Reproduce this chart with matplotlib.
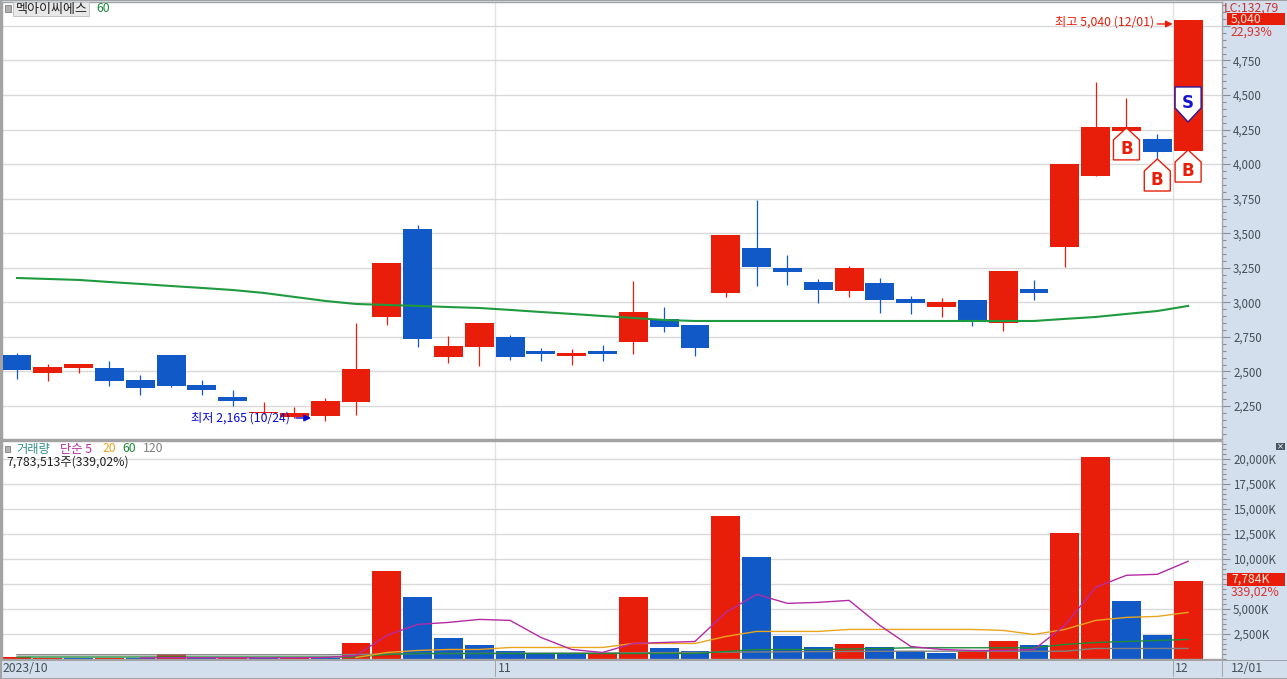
import matplotlib
matplotlib.use('Agg')
import matplotlib.pyplot as plt
from matplotlib.patches import Polygon, Rectangle
from matplotlib.ticker import FixedLocator, FuncFormatter, MultipleLocator
from matplotlib.transforms import Affine2D

plt.rcParams['font.family'] = ['Noto Sans CJK KR', 'DejaVu Sans']

W, H = 1287, 679

# candles
opens = [2619, 2489, 2525, 2525, 2438, 2619, 2402, 2315, 2200, 2170, 2178, 2279, 2894,
         3531, 2605, 2677, 2749, 2648, 2612, 2648, 2713, 2879, 2836, 3068, 3393, 3249,
         3147, 3082, 3140, 3024, 2966, 3017, 2851, 3097, 3401, 3914, 4240, 4182, 4095]
closes = [2510, 2532, 2554, 2431, 2380, 2395, 2366, 2286, 2207, 2199, 2286, 2518, 3285,
          2735, 2684, 2850, 2605, 2626, 2634, 2626, 2930, 2822, 2670, 3487, 3256, 3220,
          3089, 3249, 3017, 2995, 3003, 2858, 3227, 3068, 4001, 4269, 4269, 4088, 5040]
highs = [2633, 2554, 2554, 2576, 2474, 2619, 2438, 2366, 2279, 2243, 2308, 2850, 3285,
         3560, 2757, 2850, 2764, 2670, 2662, 2691, 3155, 2966, 2836, 3487, 3741, 3343,
         3169, 3263, 3176, 3046, 3031, 3017, 3227, 3162, 4001, 4594, 4479, 4218, 5040]
lows = [2445, 2431, 2489, 2395, 2330, 2387, 2330, 2250, 2192, 2165, 2141, 2185, 2836,
        2677, 2561, 2539, 2583, 2576, 2547, 2576, 2626, 2785, 2612, 3039, 3118, 3126,
        2995, 3039, 2923, 2916, 2894, 2829, 2793, 3017, 3256, 3914, 4225, 4008, 4095]
price_ma60 = [3176, 3169, 3162, 3147, 3133, 3118, 3104, 3089, 3068, 3039, 3010, 2988, 2981,
              2974, 2966, 2959, 2945, 2930, 2916, 2901, 2887, 2872, 2865, 2865, 2865, 2865,
              2865, 2865, 2865, 2865, 2865, 2865, 2865, 2865, 2880, 2894, 2916, 2937, 2974]

# volume in K
volume = [150, 100, 70, 100, 70, 450, 70, 100, 70, 100, 110, 1553, 8770, 6160, 2050, 1350,
          750, 450, 450, 450, 6160, 1050, 750, 14280, 10170, 2250, 1150, 1450, 1150, 750,
          550, 750, 1750, 1350, 12575, 20190, 5760, 2350, 7784]
volume_up = [1, 1, 0, 1, 0, 1, 0, 1, 0, 1, 0, 1, 1, 0, 0, 0, 0, 0, 0, 1, 1, 0, 0, 1, 0, 0,
             0, 1, 0, 0, 0, 1, 1, 0, 1, 1, 0, 0, 1]
nan = float('nan')
vol_ma5 = [nan, nan, nan, nan, 100, 130, 120, 120, 110, 120, 150, 350, 2355, 3457, 3657,
           3958, 3858, 2154, 952, 651, 1553, 1653, 1753, 4659, 6463, 5561, 5661, 5861, 3357,
           1252, 952, 852, 852, 952, 3357, 7164, 8367, 8467, 9769]
vol_ma20 = [nan, nan, nan, nan, nan, nan, nan, nan, nan, nan, nan, 150, 651, 852, 952, 952,
            1152, 1152, 1152, 1152, 1553, 1553, 1553, 2255, 2756, 2756, 2756, 2956, 2956,
            2956, 2956, 2956, 2856, 2455, 2956, 3858, 4158, 4258, 4659]
vol_ma60 = [200, 200, 200, 200, 200, 200, 200, 200, 200, 200, 200, 200, 450, 551, 551, 551,
            551, 551, 551, 551, 551, 551, 551, 751, 952, 952, 952, 1000, 1050, 1122, 1122,
            1122, 1122, 1122, 1453, 1653, 1753, 1853, 1954]
vol_ma120 = [420, 420, 420, 420, 420, 420, 420, 420, 420, 420, 420, 450, 500, 550, 550, 560,
             570, 580, 590, 600, 620, 640, 660, 680, 700, 720, 740, 760, 770, 780, 780, 780,
             780, 780, 780, 1052, 1052, 1052, 1052]

price_ticks = [2250, 2500, 2750, 3000, 3250, 3500, 3750, 4000, 4250, 4500, 4750, 5000]
volume_ticks = [2500, 5000, 7500, 10000, 12500, 15000, 17500, 20000]
month_edges = [15.5, 37.5]
signals = [(36, 4262, 'B'), (37, 4037, 'B'), (38, 4102, 'B'), (38, 4305, 'S')]

RED = '#e81e0a'
BLUE = '#1259c8'
GRID = '#d9d9d9'
PANEL = '#d4dfed'
BORDER = '#a3a3a3'
TEXT = '#46505a'


def axes_px(left, top, right, bottom):
    return [left / W, 1 - bottom / H, (right - left) / W, (bottom - top) / H]


def fig_text(x, y, s, **kw):
    kw.setdefault('fontsize', 8.8)
    kw.setdefault('va', 'center')
    return fig.text(x / W, 1 - y / H, s, **kw)


def fig_box(left, top, right, bottom, **kw):
    fig.add_artist(Rectangle((left / W, 1 - bottom / H), (right - left) / W, (bottom - top) / H,
                             transform=fig.transFigure, **kw))


fig = plt.figure(figsize=(W / 100, H / 100), dpi=100, facecolor=PANEL)
ax1 = fig.add_axes(axes_px(2, 2, 1222, 439))
ax2 = fig.add_axes(axes_px(2, 441, 1222, 659))

xlim = (-0.487, 39.1)
x = list(range(len(closes)))

for ax in (ax1, ax2):
    ax.set_xlim(*xlim)
    ax.set_facecolor('white')
    ax.set_axisbelow(True)
    ax.grid(True, axis='y', color=GRID, lw=1)
    for edge in month_edges:
        ax.axvline(edge, color='#e2e2e2', lw=1, zorder=0.5)
    ax.yaxis.tick_right()
    ax.tick_params(axis='y', which='major', length=6, width=0.8, color='#8a8f96', pad=2,
                   labelsize=8.3, labelcolor=TEXT)
    ax.tick_params(axis='y', which='minor', length=3, width=0.8, color='#8a8f96')
    ax.set_xticks([])
    for spine in ax.spines.values():
        spine.set_color(BORDER)
        spine.set_linewidth(1)

# price panel, the 5,000 label sits behind the current price tag
ax1.set_ylim(2011, 5173)
ax1.yaxis.set_major_locator(FixedLocator(price_ticks))
ax1.yaxis.set_minor_locator(MultipleLocator(50))
ax1.yaxis.set_major_formatter(FuncFormatter(lambda v, p: '' if v == 5000 else f'{v:,.0f}'))

candle_colors = [RED if c >= o else BLUE for o, c in zip(opens, closes)]
ax1.vlines(x, lows, highs, colors=candle_colors, lw=0.9, zorder=2)
ax1.bar(x, [abs(c - o) for o, c in zip(opens, closes)], bottom=[min(o, c) for o, c in zip(opens, closes)],
        width=0.94, color=candle_colors, zorder=3)
ax1.plot(x, price_ma60, color='#1f9a3f', lw=1.5, zorder=4)

ax1.annotate('', xy=(37.5, 5014), xytext=(37.0, 5014), zorder=6,
             arrowprops=dict(arrowstyle='-|>', color=RED, lw=1, mutation_scale=10, shrinkA=0, shrinkB=0))
ax1.text(36.9, 5025, '최고 5,040 (12/01)', color=RED, fontsize=8.8, ha='right', va='center', zorder=6)
ax1.annotate('', xy=(9.54, 2163), xytext=(9.05, 2163), zorder=6,
             arrowprops=dict(arrowstyle='-|>', color='#0a0ad2', lw=1, mutation_scale=10, shrinkA=0, shrinkB=0))
ax1.text(8.86, 2165, '최저 2,165 (10/24)', color='#0a0ad2', fontsize=8.8, ha='right', va='center', zorder=6)

# buy / sell tags, shape in pixels around the tip of each tag
B_SHAPE = [(0, 0), (13, -12), (13, -32), (-13, -32), (-13, -12)]
S_SHAPE = [(0, 0), (13, 14), (13, 35), (-13, 35), (-13, 14)]
for i, price, kind in signals:
    px, py = ax1.transData.transform((i, price))
    shape = B_SHAPE if kind == 'B' else S_SHAPE
    edge = RED if kind == 'B' else '#2a1a9a'
    ax1.add_patch(Polygon(shape, closed=True, facecolor='white', edgecolor=edge, lw=1,
                          transform=Affine2D().translate(px, py), zorder=7))
    text_y = py - 21 if kind == 'B' else py + 19
    tx, ty = ax1.transData.inverted().transform((px, text_y))
    ax1.text(tx, ty, kind, color=RED if kind == 'B' else '#1414d2', fontsize=12, fontweight='bold',
             family='DejaVu Sans', ha='center', va='center', zorder=8)

# volume panel, 7,500K is covered by the current volume tag
ax2.set_ylim(0, 21794)
ax2.yaxis.set_major_locator(FixedLocator(volume_ticks))
ax2.yaxis.set_minor_locator(MultipleLocator(500))
ax2.yaxis.set_major_formatter(FuncFormatter(lambda v, p: '' if v == 7500 else f'{v:,.0f}K'))

ax2.bar(x, volume, width=0.94, color=[RED if u else BLUE for u in volume_up], zorder=2)
ax2.plot(x, vol_ma120, color='#808080', lw=1, zorder=3)
ax2.plot(x, vol_ma60, color='#1f8a3a', lw=1, zorder=4)
ax2.plot(x, vol_ma20, color='#eaa51e', lw=1, zorder=5)
ax2.plot(x, vol_ma5, color='#b52aa5', lw=1, zorder=6)

# outer frame and date bar
fig_box(0, 0, 2, H, color=BORDER, lw=0, zorder=0.1)
fig_box(0, 0, W, 1, color=BORDER, lw=0, zorder=5)
fig_box(0, 439.5, 1222, 440.5, color=BORDER, lw=0, zorder=5)
fig_box(0, 659.5, W, 660.5, color=BORDER, lw=0, zorder=5)
fig_box(0, 677.5, W, H, color=BORDER, lw=0, zorder=5)
for px_x in (495, 1173, 1222):
    fig_box(px_x, 661, px_x + 1, 677, color=BORDER, lw=0, zorder=5)

fig_text(3, 668, '2023/10', color=TEXT)
fig_text(498, 668, '11', color=TEXT)
fig_text(1175, 668, '12', color=TEXT)
fig_text(1231, 668, '12/01', color=TEXT)

# header of the price panel
fig_box(5, 5, 11, 12, facecolor='#b0b0b0', edgecolor='#8a8a8a', lw=0.7, zorder=6)
fig_box(13, 2, 89, 16, facecolor='#e8e8e8', edgecolor='#c4c4c4', lw=0.7, zorder=6)
fig_text(16, 9, '멕아이씨에스', color='#222222', zorder=7, fontsize=9.4)
fig_text(96, 9, '60', color='#1f8a3a', zorder=7)

# header of the volume panel
fig_box(5, 446, 10, 452, facecolor='#b0b0b0', edgecolor='#8a8a8a', lw=0.7, zorder=6)
fig_text(16, 449, '거래량', color='#2f8f8f', zorder=7)
fig_text(60, 449, '단순 5', color='#b52aa5', zorder=7)
fig_text(103, 449, '20', color='#eaa51e', zorder=7)
fig_text(122, 449, '60', color='#1f8a3a', zorder=7)
fig_text(143, 449, '120', color='#808080', zorder=7)
fig_text(6, 462, '7,783,513주(339,02%)', color='#222222', zorder=7)

# current value tags on the right
fig_text(1224, 8, 'LC:132,79', color='#c83232', zorder=7)
fig_box(1227, 13, 1285, 25, color=RED, lw=0, zorder=6)
fig_text(1231, 19, '5,040', color='#f8e0d8', zorder=7)
fig_text(1231, 32, '22,93%', color='#d83030', zorder=7)
fig_box(1227, 573, 1285, 586, color=RED, lw=0, zorder=6)
fig_text(1231, 579.5, '7,784K', color='#f8e8e0', zorder=7)
fig_text(1231, 592, '339,02%', color='#d83030', zorder=7)
fig_box(1276, 443, 1285, 450, color='#4a5560', lw=0, zorder=6)
fig_text(1280.5, 446.5, '×', color='white', fontsize=6, ha='center', family='DejaVu Sans', zorder=7)

fig.savefig('out.png', dpi=100, facecolor=PANEL)
